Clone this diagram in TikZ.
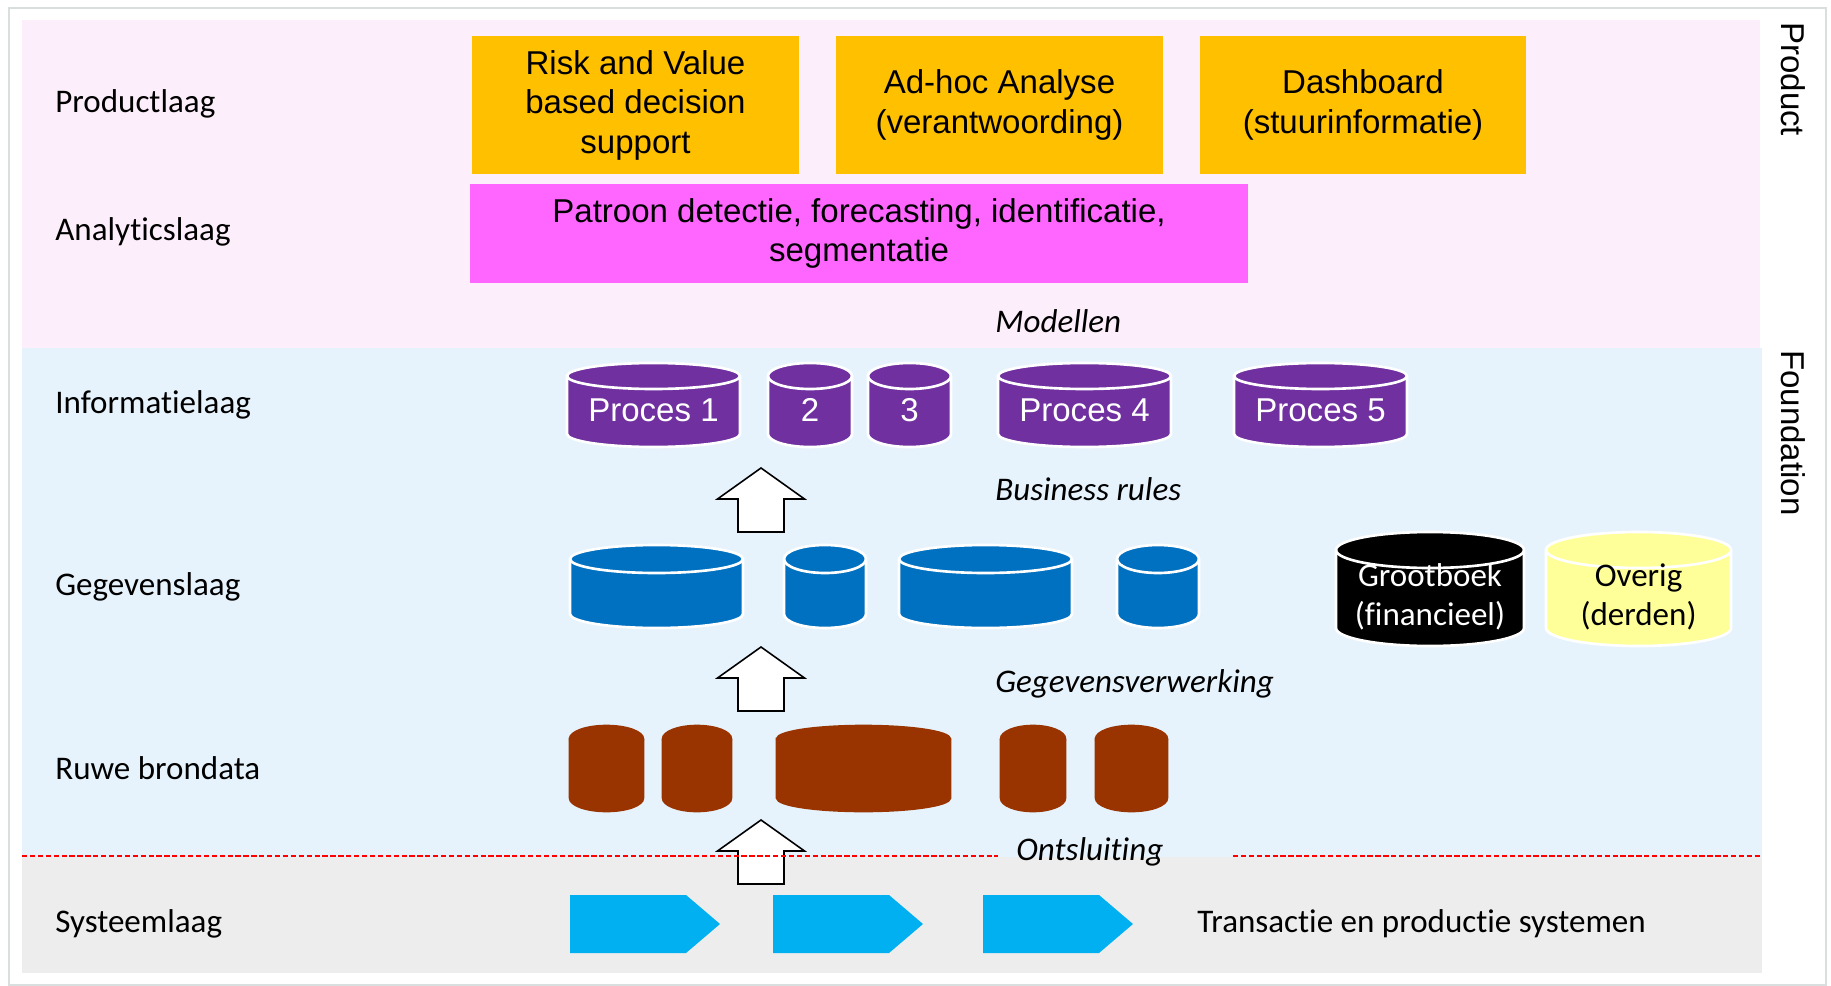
\documentclass[tikz,border=0pt]{standalone}
\usepackage{fontspec}
\setmainfont[Ligatures=NoCommon]{Carlito}
\newfontfamily\arialfont{Liberation Sans}
\newcommand{\bigfont}{\fontsize{18.8}{22.5}\selectfont}

\definecolor{pinkbg}{RGB}{253,238,251}
\definecolor{bluebg}{RGB}{230,243,252}
\definecolor{graybg}{RGB}{237,237,237}
\definecolor{framegray}{RGB}{217,222,222}
\definecolor{prodyellow}{RGB}{255,192,0}
\definecolor{anamagenta}{RGB}{255,102,255}
\definecolor{infopurple}{RGB}{112,48,160}
\definecolor{dataBlue}{RGB}{0,112,192}
\definecolor{rawbrown}{RGB}{153,51,0}
\definecolor{overigyellow}{RGB}{255,255,153}
\definecolor{syscyan}{RGB}{0,176,240}

% cylinder: x1, x2, top, bottom, y radius, fill, line
\newcommand{\dbcyl}[7]{%
  \pgfmathsetmacro{\cylrx}{(#2-#1)/2}
  \filldraw[fill=#6,draw=#7,line width=1.5pt]
    (#1,#3+#5) -- (#1,#4-#5)
    arc[start angle=180,end angle=0,x radius=\cylrx,y radius=#5]
    -- (#2,#3+#5)
    arc[start angle=0,end angle=-180,x radius=\cylrx,y radius=#5] -- cycle;
  \draw[#7,line width=1.5pt] (#1,#3+#5)
    arc[start angle=180,end angle=0,x radius=\cylrx,y radius=#5];
}

\begin{document}
\begin{tikzpicture}[x=0.02cm,y=-0.02cm,
  every node/.style={inner sep=0pt},
  laag/.style={anchor=west,font=\bigfont},
  stap/.style={anchor=west,font=\bigfont\itshape},
  prodbox/.style={fill=prodyellow,minimum width=6.54cm,minimum height=2.76cm,
    align=center,font=\arialfont\bigfont},
  anabox/.style={fill=anamagenta,minimum width=15.56cm,minimum height=1.98cm,
    align=center,font=\arialfont\bigfont},
  cyltext/.style={font=\arialfont\bigfont,text=white},
  pijl/.style={fill=white,draw=black,line width=0.9pt}]
   \useasboundingbox (0,0) rectangle (1831,986);

   % layers
   \fill[pinkbg] (22,20) rectangle (1760,348);
   \fill[bluebg] (22,348) rectangle (1762,857);
   \fill[graybg] (22,857) rectangle (1762,973);
   \draw[framegray,line width=1.2pt] (9,8) rectangle (1826,985);

   \node[laag] (prodl) at (55,104) {Productlaag};
   \node[laag] (anal) at (55,232) {Analyticslaag};
   \node[laag] (infol) at (55,405) {Informatielaag};
   \node[laag] (gegl) at (55,587) {Gegevenslaag};
   \node[laag] (ruwl) at (55,768) {Ruwe brondata};
   \node[laag] (sysl) at (55,924) {Systeemlaag};

   \node[rotate=-90,anchor=west,font=\arialfont\bigfont] (product) at (1793,22) {Product};
   \node[rotate=-90,anchor=west,font=\arialfont\bigfont] (foundation) at (1793,350) {Foundation};

   % product and analytics
   \node[prodbox] (risk) at (635.5,105) {Risk and Value\\based decision\\support};
   \node[prodbox] (adhoc) at (999.5,105) {Ad-hoc Analyse\\(verantwoording)};
   \node[prodbox] (dash) at (1363,105) {Dashboard\\(stuurinformatie)};
   \node[anabox] (patroon) at (859,233.5) {Patroon detectie, forecasting, identificatie,\\segmentatie};

   \node[stap] (modellen) at (995,321) {Modellen};
   \node[stap] (rules) at (995,489) {Business rules};
   \node[stap] (verwerking) at (995,684) {Gegevensverwerking};

   % informatielaag
   \foreach \a/\b in {567/740,768/852,868/951,998/1171,1234/1407}
     \dbcyl{\a}{\b}{363}{447}{13}{infopurple}{white};
   \node[cyltext] (p1) at (653.5,410) {Proces 1};
   \node[cyltext] (p2) at (810,410) {2};
   \node[cyltext] (p3) at (909.5,410) {3};
   \node[cyltext] (p4) at (1084.5,410) {Proces 4};
   \node[cyltext] (p5) at (1320.5,410) {Proces 5};

   % gegevenslaag
   \foreach \a/\b in {570/743,784/866,899/1072,1117/1199}
     \dbcyl{\a}{\b}{545}{628}{14}{dataBlue}{white};
   \dbcyl{1336}{1524}{532}{646}{18}{black}{white}
   \dbcyl{1546}{1731}{532}{646}{18}{overigyellow}{white}
   \node[font=\bigfont,text=white,align=center] (grootboek) at (1430,597) {Grootboek\\(financieel)};
   \node[font=\bigfont,align=center] (overig) at (1638.5,597) {Overig\\(derden)};

   % ruwe brondata
   \foreach \a/\b in {570/643,663/731,777/950,1001/1065,1096/1167}
     \dbcyl{\a}{\b}{726}{811}{13}{rawbrown}{rawbrown};

   % systeemlaag
   \foreach \x in {570,773,983}
     \fill[syscyan] (\x,895) -- (\x+116,895) -- (\x+150,924) -- (\x+116,953) -- (\x,953) -- cycle;
   \node[laag] (systemen) at (1197,924) {Transactie en productie systemen};

   % arrows between the layers
   \foreach \t in {468,647,820}
     \draw[pijl] (761,\t) -- (804.5,\t+31) -- (784,\t+31) -- (784,\t+64)
       -- (738,\t+64) -- (738,\t+31) -- (717.5,\t+31) -- cycle;

   \draw[red,dashed,dash pattern=on 3pt off 1.5pt,line width=1pt] (22,856) -- (998,856);
   \draw[red,dashed,dash pattern=on 3pt off 1.5pt,line width=1pt] (1233,856) -- (1762,856);
   \node[stap] (ontsluiting) at (1016,852) {Ontsluiting};
 \end{tikzpicture}
\end{document}
